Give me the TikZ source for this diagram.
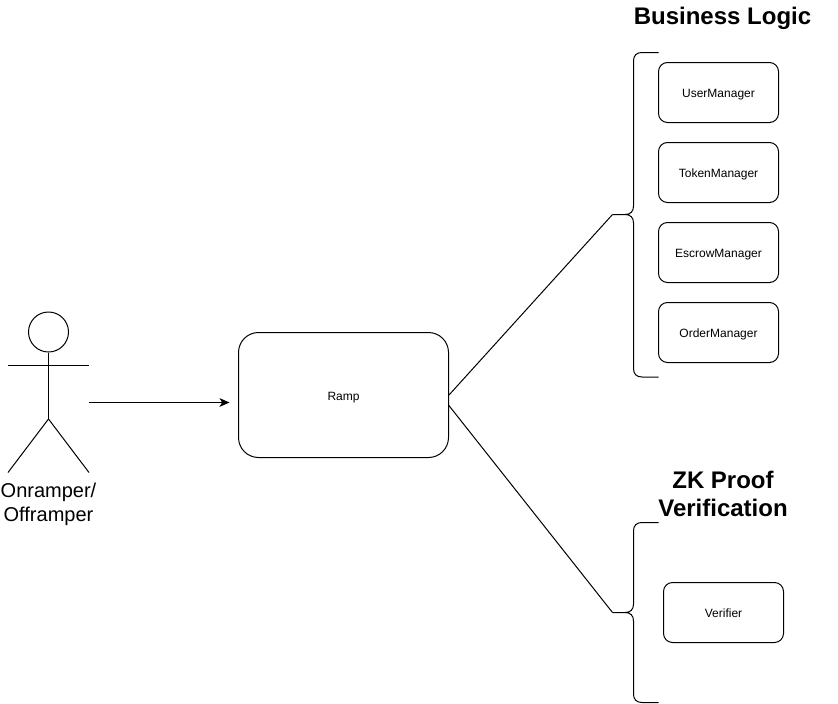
\documentclass[tikz,border=0pt]{standalone}
\usepackage{fontspec}
\setmainfont{Liberation Sans}
\usetikzlibrary{arrows.meta}
\tikzset{
  px/.style={x=0.75pt,y=-0.75pt},
  ln/.style={draw=black,line width=0.75pt},
  mgr/.style={ln,rounded corners=6.75pt,minimum width=90pt,minimum height=45pt,inner sep=0pt,text height=9.4pt,text depth=1.8pt,font=\fontsize{9pt}{10.8pt}\selectfont},
  rampbox/.style={ln,rounded corners=15pt,minimum width=157.5pt,minimum height=93.75pt,inner sep=0pt,text height=10.2pt,text depth=1.8pt,font=\fontsize{9pt}{10.8pt}\selectfont},
  head/.style={font=\bfseries\fontsize{18pt}{21pt}\selectfont,align=center,inner sep=0pt},
  actlabel/.style={font=\fontsize{15pt}{18pt}\selectfont,align=center,inner sep=0pt},
  actorhead/.style={ln,circle,minimum size=30pt,inner sep=0pt},
}
\begin{document}
\begin{tikzpicture}[px]
\useasboundingbox (0,0) rectangle (838,703);
\fill[white] (0,0) rectangle (838,703);
% boxes
\node[mgr] (user) at (718.5,92.5) {UserManager};
\node[mgr] (token) at (718.5,172.5) {TokenManager};
\node[mgr] (escrow) at (718.5,252.5) {EscrowManager};
\node[mgr] (order) at (718.5,332.5) {OrderManager};
\node[mgr] (verifier) at (723.5,612.5) {Verifier};
\node[rampbox] (ramp) at (343.5,395) {Ramp};
% titles
\node[head] (bl) at (722.5,18.5) {Business Logic};
\node[head] (zk) at (723,493.5) {ZK Proof\\Verification};
% actor
\node[actorhead] (actor) at (48.5,332) {};
\coordinate (hip) at (48.5,419);
\coordinate (lefthand) at (8,365.5);
\coordinate (righthand) at (89,365.5);
\coordinate (leftfoot) at (8,472.5);
\coordinate (rightfoot) at (89,472.5);
\draw[ln] (actor.south) -- (hip);
\draw[ln] (lefthand) -- (righthand);
\draw[ln] (leftfoot) -- (hip) -- (rightfoot);
\node[actlabel] (actorname) at (48.5,504.5) {Onramper/\\Offramper};
% arrow
\coordinate (arrowstart) at (88.5,402.5);
\coordinate (arrowend) at (229.5,402.5);
\draw[ln,-{Stealth[length=7.5pt,width=6.5pt,inset=2pt]}] (arrowstart) -- (arrowend);
% braces
\coordinate (tipa) at (612.5,214.5);
\coordinate (tipb) at (612.5,612.5);
\coordinate (lowjoin) at (448.5,405);
\draw[ln] (658.5,52.5) -- (642,52.5) .. controls (636.5,52.5) and (633.5,55.5) .. (633.5,61)
  -- (633.5,206) .. controls (633.5,211.5) and (630.5,214.5) .. (625,214.5) -- (tipa)
  (625,214.5) .. controls (630.5,214.5) and (633.5,217.5) .. (633.5,223)
  -- (633.5,368.5) .. controls (633.5,374) and (636.5,377) .. (642,377) -- (658.5,377);
\draw[ln] (658.5,522.5) -- (642,522.5) .. controls (636.5,522.5) and (633.5,525.5) .. (633.5,531)
  -- (633.5,604) .. controls (633.5,609.5) and (630.5,612.5) .. (625,612.5) -- (tipb)
  (625,612.5) .. controls (630.5,612.5) and (633.5,615.5) .. (633.5,621)
  -- (633.5,694) .. controls (633.5,699.5) and (636.5,702.5) .. (642,702.5) -- (658.5,702.5);
% connectors
\draw[ln] (ramp.east) -- (tipa);
\draw[ln] (lowjoin) -- (tipb);
\end{tikzpicture}
\end{document}
